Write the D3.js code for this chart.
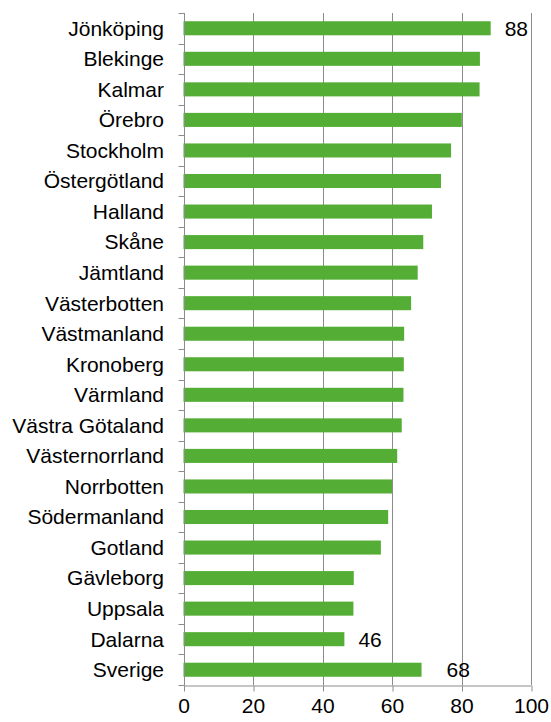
<!DOCTYPE html>
<html>
<head>
<meta charset="utf-8">
<script src="https://cdn.jsdelivr.net/npm/d3@7/dist/d3.min.js"></script>
<style>
  html, body { margin: 0; padding: 0; background: #fff; }
  svg { display: block; font-family: "Liberation Sans", Arial, sans-serif; }
</style>
</head>
<body>
<svg id="chart" width="551" height="722"></svg>
<script>
/* ── data ─────────────────────────────────────────────────────────── */

const counties = [
  'Jönköping', 'Blekinge', 'Kalmar', 'Örebro', 'Stockholm', 'Östergötland',
  'Halland', 'Skåne', 'Jämtland', 'Västerbotten', 'Västmanland', 'Kronoberg',
  'Värmland', 'Västra Götaland', 'Västernorrland', 'Norrbotten',
  'Södermanland', 'Gotland', 'Gävleborg', 'Uppsala', 'Dalarna', 'Sverige'
];
const values = [
  88.4, 85.3, 85.2, 80.1, 77.0, 74.1,
  71.5, 69.0, 67.4, 65.5, 63.5, 63.4,
  63.3, 62.8, 61.5, 60.0,
  58.9, 56.8, 49.0, 48.9, 46.3, 68.5
];
// only these bars carry a value label
const labelled = ['Jönköping', 'Dalarna', 'Sverige'];
const labelText = ['88', '46', '68'];
const xTicks = [0, 20, 40, 60, 80, 100];

/* ── layout ───────────────────────────────────────────────────────── */

const W = 551, H = 722;
const m = { top: 13, right: 20, bottom: 37, left: 183.5 };
const green = '#54ae35';
const grey  = '#8c8c8c';

const svg = d3.select('#chart');
const rows = counties.map((c, i) => ({ name: c, value: values[i] }));

const x = d3.scaleLinear().domain([0, 100]).range([m.left, 531]);
const y = d3.scaleBand().domain(counties).range([m.top, H - m.bottom])
  .paddingInner(0.54).paddingOuter(0.27);
const step = y.step();

// gridlines
svg.append('g').attr('class', 'grid')
  .selectAll('line').data(xTicks.slice(1)).join('line')
  .attr('x1', d => Math.round(x(d)) + 0.5).attr('x2', d => Math.round(x(d)) + 0.5)
  .attr('y1', m.top).attr('y2', H - m.bottom)
  .attr('stroke', grey).attr('stroke-width', 1);

// bars
svg.append('g').attr('class', 'bars')
  .selectAll('rect').data(rows).join('rect')
  .attr('x', x(0))
  .attr('y', d => y(d.name))
  .attr('width', d => x(d.value) - x(0))
  .attr('height', y.bandwidth())
  .attr('fill', green);

// y axis line + ticks at category boundaries
const gy = svg.append('g').attr('class', 'y-axis');
const yBase = Math.round(x(0)) + 0.5;
gy.append('line')
  .attr('x1', yBase).attr('x2', yBase)
  .attr('y1', m.top).attr('y2', H - m.bottom)
  .attr('stroke', grey);
gy.selectAll('line.tick').data(d3.range(counties.length + 1)).join('line')
  .attr('class', 'tick')
  .attr('x1', yBase - 6).attr('x2', yBase)
  .attr('y1', i => Math.round(m.top + i * step) + 0.5)
  .attr('y2', i => Math.round(m.top + i * step) + 0.5)
  .attr('stroke', grey);
gy.selectAll('text').data(counties).join('text')
  .attr('x', 164)
  .attr('y', d => y(d) + y.bandwidth() / 2)
  .attr('dy', '0.35em')
  .attr('text-anchor', 'end')
  .attr('font-size', 21)
  .attr('fill', '#000')
  .text(d => d);

// x axis
const gx = svg.append('g').attr('class', 'x-axis')
  .attr('transform', `translate(0,${Math.round(H - m.bottom) + 0.5})`)
  .call(d3.axisBottom(x).tickValues(xTicks).tickSize(6).tickSizeOuter(0));
gx.select('.domain').attr('stroke', grey);
gx.selectAll('.tick line').attr('stroke', grey)
  .attr('transform', 'translate(0.5,0)');
gx.selectAll('.tick text')
  .attr('font-family', '"Liberation Sans", Arial, sans-serif')
  .attr('font-size', 21).attr('fill', '#000').attr('dy', '0.92em')
  .attr('y', 8);

// value labels
const labelOffset = { 'Jönköping': 14, 'Dalarna': 14, 'Sverige': 25 };
svg.append('g').attr('class', 'labels')
  .selectAll('text').data(labelled).join('text')
  .attr('x', d => x(values[counties.indexOf(d)]) + labelOffset[d])
  .attr('y', d => y(d) + y.bandwidth() / 2)
  .attr('dy', '0.36em')
  .attr('font-size', 21)
  .attr('fill', '#000')
  .text((d, i) => labelText[i]);
</script>
</body>
</html>
